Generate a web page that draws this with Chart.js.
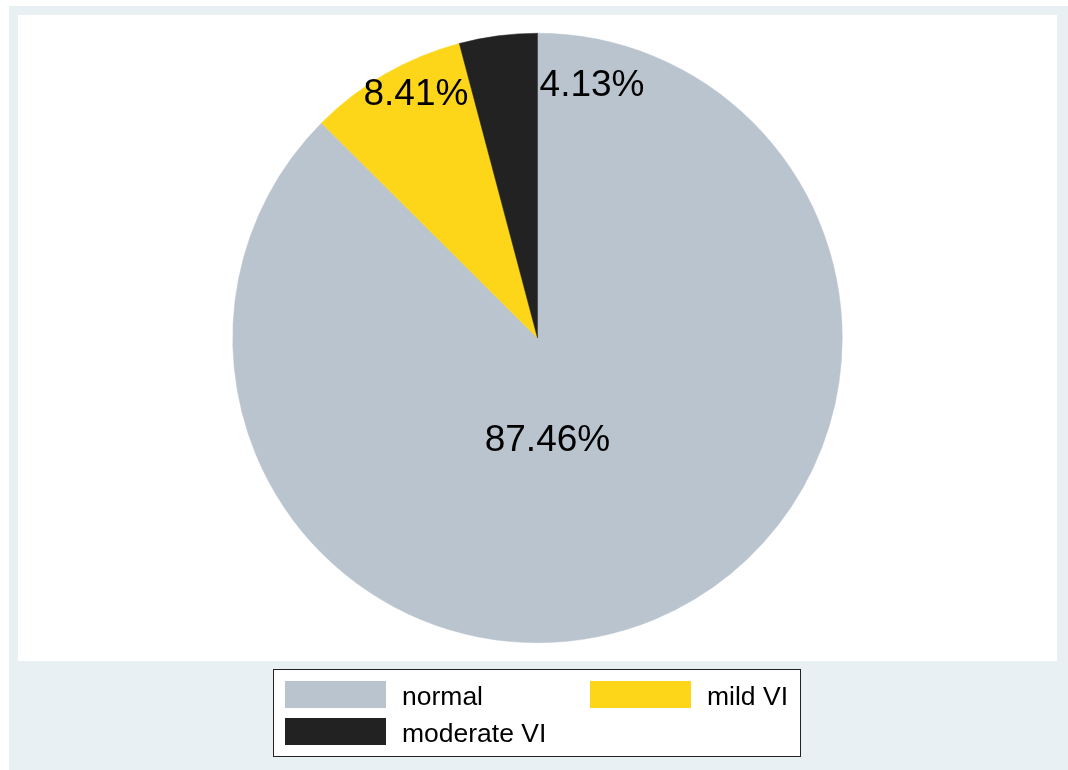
<!DOCTYPE html>
<html>
<head>
<meta charset="utf-8">
<script src="https://cdn.jsdelivr.net/npm/chart.js@4"></script>
<style>
  html, body { margin: 0; padding: 0; background: #ffffff; }
  #wrap { position: absolute; left: 0; top: 0; width: 1068px; height: 770px; }
</style>
</head>
<body>
<div id="wrap"><canvas id="c" width="1068" height="770"></canvas></div>
<script>
// ---- data ----
const categories = ["normal", "mild VI", "moderate VI"];
const percentages = [87.46, 8.41, 4.13];
const sliceColors = ["#b9c4ce", "#fdd61a", "#222222"];

const FONT = "'Liberation Sans', Arial, Helvetica, sans-serif";

const backgroundPlugin = {
  id: "stataBackground",
  beforeDraw(chart) {
    const ctx = chart.ctx;
    ctx.save();
    ctx.fillStyle = "#ffffff";
    ctx.fillRect(0, 0, chart.width, chart.height);
    ctx.fillStyle = "#e9f0f3";
    ctx.fillRect(9, 6, chart.width - 9, chart.height - 6);
    ctx.fillStyle = "#ffffff";
    ctx.fillRect(18, 15, 1039, 646);
    ctx.restore();
  }
};

const sliceLabelPlugin = {
  id: "sliceLabels",
  afterDatasetsDraw(chart, args, opts) {
    const ctx = chart.ctx;
    const meta = chart.getDatasetMeta(0);
    const data = chart.data.datasets[0].data;
    ctx.save();
    ctx.font = opts.fontSize + "px " + FONT;
    ctx.fillStyle = "#000000";
    ctx.textAlign = "center";
    ctx.textBaseline = "alphabetic";
    meta.data.forEach((arc, i) => {
      const p = arc.getProps(["x", "y", "startAngle", "endAngle", "outerRadius"], true);
      const place = opts.placement[i];
      const a = (p.startAngle + p.endAngle) / 2 + place.dAngle * Math.PI / 180;
      const r = p.outerRadius * place.radius;
      const x = p.x + Math.cos(a) * r;
      const y = p.y + Math.sin(a) * r;
      ctx.fillText(data[i].toFixed(2) + "%", x, y + opts.fontSize * 0.358);
    });
    ctx.restore();
  }
};

const boxLegendPlugin = {
  id: "boxLegend",
  afterDraw(chart, args, opts) {
    const ctx = chart.ctx;
    const labels = chart.data.labels;
    const colors = chart.data.datasets[0].backgroundColor;
    ctx.save();
    ctx.fillStyle = "#ffffff";
    ctx.fillRect(opts.left, opts.top, opts.width, opts.height);
    ctx.strokeStyle = "#222222";
    ctx.lineWidth = 1;
    ctx.strokeRect(opts.left + 0.5, opts.top + 0.5, opts.width, opts.height);
    ctx.font = opts.fontSize + "px " + FONT;
    ctx.textAlign = "left";
    ctx.textBaseline = "middle";
    labels.forEach((lab, i) => {
      const col = i % 2, row = Math.floor(i / 2);
      const sx = opts.left + opts.swatchX[col];
      const sy = opts.top + opts.rowY[row];
      ctx.fillStyle = colors[i];
      ctx.fillRect(sx, sy, opts.swatchW, opts.swatchH);
      ctx.fillStyle = "#000000";
      ctx.fillText(lab, opts.left + opts.textX[col], sy + opts.swatchH / 2 + 3);
    });
    ctx.restore();
  }
};

new Chart(document.getElementById("c"), {
  type: "pie",
  data: {
    labels: categories,
    datasets: [{
      data: percentages,
      backgroundColor: sliceColors,
      borderColor: sliceColors,
      borderWidth: 0.5
    }]
  },
  options: {
    responsive: false,
    animation: false,
    layout: { padding: { left: 232, right: 225, top: 33, bottom: 127 } },
    plugins: {
      legend: { display: false },
      tooltip: { enabled: false },
      sliceLabels: {
        fontSize: 37,
        placement: [
          { dAngle: 16.9, radius: 0.33 },
          { dAngle: 3.7, radius: 0.90 },
          { dAngle: 19.5, radius: 0.856 }
        ]
      },
      boxLegend: {
        left: 273, top: 669, width: 527, height: 87,
        swatchX: [12, 317], textX: [129, 434],
        rowY: [12, 49], swatchW: 101, swatchH: 27,
        fontSize: 26.5
      }
    }
  },
  plugins: [backgroundPlugin, sliceLabelPlugin, boxLegendPlugin]
});
</script>
</body>
</html>
